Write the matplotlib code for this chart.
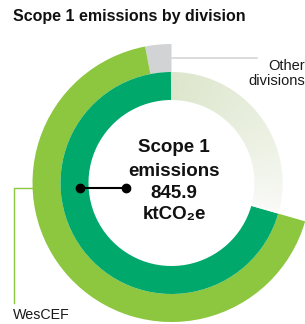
import numpy as np
import matplotlib
matplotlib.use("Agg")
import matplotlib.pyplot as plt
from matplotlib.patches import Wedge
from matplotlib.colors import to_rgb

plt.rcParams['font.family'] = ['Liberation Sans', 'DejaVu Sans']

# data
divisions = ["Other divisions", "WesCEF"]
emissions = [36.5, 809.4]          # ktCO2e
total = sum(emissions)             # 845.9
sweep = 254                        # degrees of the ring used by the total

div_colors = ["#D1D3D4", "#8DC63F"]
total_color = "#00A86B"

fig = plt.figure(figsize=(3.05, 3.24), dpi=100)
ax = fig.add_axes([0, 0, 1, 1])

cx, cy = 171.5, 141
r_out, r_mid, w = 139, 111, 28
gap = total * (360 / sweep - 1)

# outer ring: split by division
ax.pie(emissions + [gap], colors=div_colors + ["none"], startangle=90,
       counterclock=True, radius=r_out, center=(cx, cy),
       wedgeprops=dict(width=w, linewidth=0))

# inner ring: total
ax.pie([total, gap], colors=[total_color, "none"], startangle=90,
       counterclock=True, radius=r_mid, center=(cx, cy),
       wedgeprops=dict(width=w, linewidth=0))

# faded remainder of the inner ring
end = 90 + sweep - 360
c0 = np.array(to_rgb("#DCE6CC"))
c1 = np.array(to_rgb("#FAFAF8"))
n = 80
angs = np.linspace(end, 90, n + 1)
for i in range(n):
    t = (i / (n - 1)) ** 0.8
    col = c1 + (c0 - c1) * t
    ax.add_patch(Wedge((cx, cy), r_mid, angs[i], angs[i + 1] + 0.3, width=w,
                       color=col, linewidth=0))

ax.set_xlim(0, 305)
ax.set_ylim(0, 324)
ax.set_aspect('equal')
ax.axis('off')

# title
ax.text(13, 307, "Scope 1 emissions by division", fontsize=11.5,
        fontweight='bold', va='center', ha='left', color='#111111')

# centre label
lines = ["Scope 1", "emissions", f"{total:.1f}", "ktCO\u2082e"]
for s, y in zip(lines, [176, 152, 131, 109]):
    ax.text(174, y, s, fontsize=13.5, fontweight='bold', ha='center',
            va='center', color='#111111')
ax.plot([80, 126], [136, 136], color='black', lw=1.5, marker='o',
        markersize=6, solid_capstyle='butt')

# other divisions callout
ax.plot([172, 257], [266, 266], color='#D6D6D6', lw=1.2)
ax.text(305, 258, "Other", fontsize=10.5, ha='right', va='center',
        color='#1a1a1a')
ax.text(305, 243, "divisions", fontsize=10.5, ha='right', va='center',
        color='#1a1a1a')

# WesCEF callout
ax.plot([32, 14, 14], [136, 136, 21], color='#8DC63F', lw=1)
ax.text(13, 16, "WesCEF", fontsize=10.3, ha='left', va='top', color='#1a1a1a')

fig.savefig("out.png", dpi=100)
